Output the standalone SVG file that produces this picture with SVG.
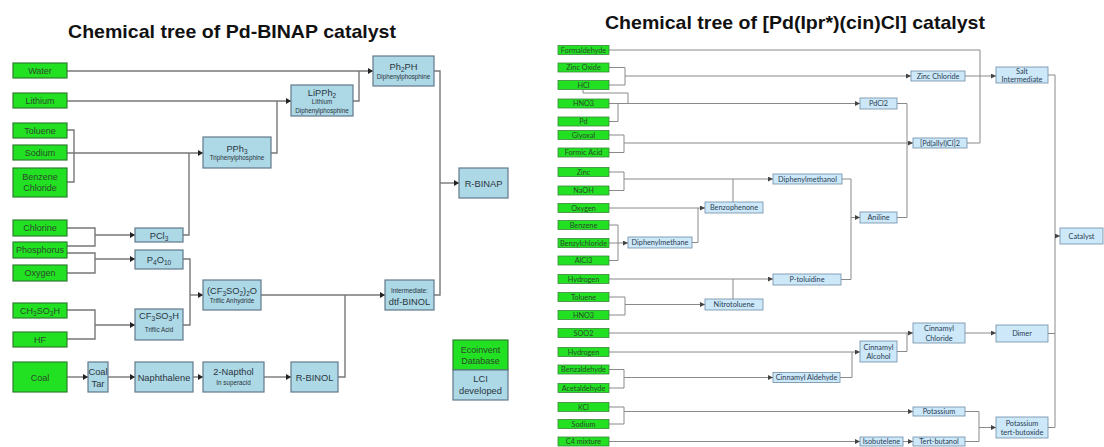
<svg xmlns="http://www.w3.org/2000/svg" width="1104" height="447" viewBox="0 0 1104 447">
<style>
.bg{fill:#ffffff}
.title{font-family:"Liberation Sans",Arial,sans-serif;font-weight:bold;font-size:19px;fill:#111}
.lg{fill:#22e022;stroke:#2f7f2f;stroke-width:1.2}
.lb{fill:#add8e6;stroke:#62798a;stroke-width:1.2}
.lt{font-family:"Liberation Sans",Arial,sans-serif;font-size:9px;text-anchor:middle;fill:#2d4a2d}
.ltb{font-family:"Liberation Sans",Arial,sans-serif;font-size:9.3px;text-anchor:middle;fill:#2a3640}
.ls{font-family:"Liberation Sans",Arial,sans-serif;font-size:6.3px;text-anchor:middle;fill:#2a3640}
.rg{fill:#22e022;stroke:#3a8a3a;stroke-width:0.8}
.rb{fill:#cde8f8;stroke:#6c8ca6;stroke-width:0.8}
.rt{font-family:Lato,"Liberation Sans",sans-serif;font-size:7.3px;text-anchor:middle;fill:#2d4a2d}
.rtb{font-family:Lato,"Liberation Sans",sans-serif;font-size:7.3px;text-anchor:middle;fill:#2a3d55}
.lc{fill:none;stroke:#777;stroke-width:1.4}
.rc{fill:none;stroke:#8a8a8a;stroke-width:1}
</style>
<defs>
<marker id="ah" markerUnits="userSpaceOnUse" markerWidth="6" markerHeight="6" refX="5" refY="3" orient="auto">
<path d="M0,0 L5,3 L0,6 z" fill="#222"/>
</marker>
<marker id="ahr" markerUnits="userSpaceOnUse" markerWidth="6" markerHeight="6" refX="5" refY="2.5" orient="auto">
<path d="M0,0 L5,2.5 L0,5 z" fill="#444"/>
</marker>
</defs>
<rect class="bg" x="0" y="0" width="1104" height="447"/>

<text class="title" x="68" y="38" textLength="328" lengthAdjust="spacingAndGlyphs">Chemical tree of Pd-BINAP  catalyst</text>
<text class="title" x="605" y="29" textLength="380" lengthAdjust="spacingAndGlyphs">Chemical tree of [Pd(Ipr*)(cin)Cl]  catalyst</text>

<!-- LEFT CONNECTORS -->
<g id="left-connectors">
<path class="lc" d="M67,71 H373" marker-end="url(#ah)"/>
<path class="lc" d="M353,101 H359 V71"/>
<path class="lc" d="M67,101 H291" marker-end="url(#ah)"/>
<path class="lc" d="M271,153 H277 V101"/>
<path class="lc" d="M67,130 H74 V182 H67"/>
<path class="lc" d="M67,153 H203" marker-end="url(#ah)"/>
<path class="lc" d="M183,235 H189 V153"/>
<path class="lc" d="M67,228 H95 V246 H67"/>
<path class="lc" d="M95,235 H135" marker-end="url(#ah)"/>
<path class="lc" d="M67,253 H95 V273 H67"/>
<path class="lc" d="M95,259 H135" marker-end="url(#ah)"/>
<path class="lc" d="M67,310 H95 V339 H67"/>
<path class="lc" d="M95,325 H135" marker-end="url(#ah)"/>
<path class="lc" d="M183,259 H190 V325 H183"/>
<path class="lc" d="M190,295 H203" marker-end="url(#ah)"/>
<path class="lc" d="M261,295 H385" marker-end="url(#ah)"/>
<path class="lc" d="M338,377 H345 V295"/>
<path class="lc" d="M434,295 H440 V71 H434"/>
<path class="lc" d="M440,183 H459" marker-end="url(#ah)"/>
<path class="lc" d="M67,377 H88" marker-end="url(#ah)"/>
<path class="lc" d="M108,377 H135" marker-end="url(#ah)"/>
<path class="lc" d="M193,377 H203" marker-end="url(#ah)"/>
<path class="lc" d="M264,377 H291" marker-end="url(#ah)"/>
</g>

<!-- LEFT NODES -->
<g id="l-water"><rect class="lg" x="13" y="63" width="54" height="15"/><text class="lt" x="40" y="74">Water</text></g>
<g id="l-lithium"><rect class="lg" x="13" y="93" width="54" height="15"/><text class="lt" x="40" y="104">Lithium</text></g>
<g id="l-toluene"><rect class="lg" x="13" y="123" width="54" height="15"/><text class="lt" x="40" y="134">Toluene</text></g>
<g id="l-sodium"><rect class="lg" x="13" y="145" width="54" height="15"/><text class="lt" x="40" y="156">Sodium</text></g>
<g id="l-benzenechloride"><rect class="lg" x="13" y="168" width="54" height="29"/><text class="lt" x="40" y="180">Benzene</text><text class="lt" x="40" y="191">Chloride</text></g>
<g id="l-chlorine"><rect class="lg" x="13" y="220" width="54" height="16"/><text class="lt" x="40" y="231">Chlorine</text></g>
<g id="l-phosphorus"><rect class="lg" x="13" y="242" width="54" height="16"/><text class="lt" x="40" y="253">Phosphorus</text></g>
<g id="l-oxygen"><rect class="lg" x="13" y="265" width="54" height="16"/><text class="lt" x="40" y="276">Oxygen</text></g>
<g id="l-ch3so3h"><rect class="lg" x="13" y="303" width="54" height="15"/><text class="lt" x="40" y="314">CH<tspan font-size="6.5" dy="2">3</tspan><tspan dy="-2">SO</tspan><tspan font-size="6.5" dy="2">3</tspan><tspan dy="-2">H</tspan></text></g>
<g id="l-hf"><rect class="lg" x="13" y="332" width="54" height="15"/><text class="lt" x="40" y="343">HF</text></g>
<g id="l-coal"><rect class="lg" x="13" y="362" width="54" height="30"/><text class="lt" x="40" y="380.5">Coal</text></g>

<g id="l-coaltar"><rect class="lb" x="88" y="362" width="20" height="30"/><text class="ltb" x="98" y="374.5" font-size="7.6">Coal</text><text class="ltb" x="98" y="386.5" font-size="7.6">Tar</text></g>
<g id="l-naphthalene"><rect class="lb" x="135" y="362" width="58" height="30"/><text class="ltb" x="164" y="380.5">Naphthalene</text></g>
<g id="l-2napthol"><rect class="lb" x="203" y="362" width="61" height="30"/><text class="ltb" x="233.5" y="375">2-Napthol</text><text class="ls" x="233.5" y="385">In superacid</text></g>
<g id="l-rbinol"><rect class="lb" x="291" y="362" width="47" height="30"/><text class="ltb" x="314.5" y="380.5">R-BINOL</text></g>
<g id="l-pcl3"><rect class="lb" x="135" y="228" width="48" height="14"/><text class="ltb" x="159" y="238.5">PCl<tspan font-size="6.5" dy="2">3</tspan></text></g>
<g id="l-p4o10"><rect class="lb" x="135" y="250" width="48" height="19"/><text class="ltb" x="159" y="262.5">P<tspan font-size="6.5" dy="2">4</tspan><tspan dy="-2">O</tspan><tspan font-size="6.5" dy="2">10</tspan></text></g>
<g id="l-cf3so3h"><rect class="lb" x="135" y="309" width="48" height="31"/><text class="ltb" x="159" y="319">CF<tspan font-size="6.5" dy="2">3</tspan><tspan dy="-2">SO</tspan><tspan font-size="6.5" dy="2">3</tspan><tspan dy="-2">H</tspan></text><text class="ls" x="159" y="332">Triflic Acid</text></g>
<g id="l-tf2o"><rect class="lb" x="203" y="280" width="58" height="30"/><text class="ltb" x="232" y="294">(CF<tspan font-size="6.5" dy="2">3</tspan><tspan dy="-2">SO</tspan><tspan font-size="6.5" dy="2">2</tspan><tspan dy="-2">)</tspan><tspan font-size="6.5" dy="2">2</tspan><tspan dy="-2">O</tspan></text><text class="ls" x="232" y="302.5">Triflic Anhydride</text></g>
<g id="l-pph3"><rect class="lb" x="203" y="137" width="68" height="31"/><text class="ltb" x="237" y="151.5">PPh<tspan font-size="6.5" dy="2">3</tspan></text><text class="ls" x="237" y="160">Triphenylphosphine</text></g>
<g id="l-lipph2"><rect class="lb" x="291" y="85" width="62" height="31"/><text class="ltb" x="322" y="95.5">LiPPh<tspan font-size="6.5" dy="2">2</tspan></text><text class="ls" x="322" y="104">Lithium</text><text class="ls" x="322" y="112.5">Diphenylphosphine</text></g>
<g id="l-ph2ph"><rect class="lb" x="373" y="56" width="61" height="30"/><text class="ltb" x="403.5" y="69.5">Ph<tspan font-size="6.5" dy="2">2</tspan><tspan dy="-2">PH</tspan></text><text class="ls" x="403.5" y="78.5">Diphenylphosphine</text></g>
<g id="l-dtfbinol"><rect class="lb" x="385" y="280" width="49" height="30"/><text class="ls" x="409.5" y="293" font-size="5.5">Intermediate:</text><text class="ltb" x="409.5" y="304.5">dtf-BINOL</text></g>
<g id="l-rbinap"><rect class="lb" x="459" y="168" width="49" height="30"/><text class="ltb" x="483.5" y="186.5">R-BINAP</text></g>
<g id="l-legend">
<rect class="lg" x="453" y="340" width="55" height="30"/><text class="lt" x="480.5" y="352.5">Ecoinvent</text><text class="lt" x="480.5" y="363.5">Database</text>
<rect class="lb" x="453" y="370" width="55" height="30"/><text class="ltb" x="480.5" y="381.5">LCI</text><text class="ltb" x="480.5" y="393.5">developed</text>
</g>

<!-- RIGHT CONNECTORS -->
<g id="right-connectors">
<path class="rc" d="M609,50 H980 V143 H967"/>
<path class="rc" d="M965,76 H996" marker-end="url(#ahr)"/>
<path class="rc" d="M609,67.5 H625 V85 H609"/>
<path class="rc" d="M625,76 H911" marker-end="url(#ahr)"/>
<path class="rc" d="M583,89.5 V93 H628 V103.5"/>
<path class="rc" d="M609,103.5 H860" marker-end="url(#ahr)"/>
<path class="rc" d="M609,121.5 H618 V103.5"/>
<path class="rc" d="M609,135 H624 V152.5 H609"/>
<path class="rc" d="M624,143 H913" marker-end="url(#ahr)"/>
<path class="rc" d="M897,103.5 H907 V217.5 H897"/>
<path class="rc" d="M609,172 H624 V190.5 H609"/>
<path class="rc" d="M624,179 H773" marker-end="url(#ahr)"/>
<path class="rc" d="M733,202 V179"/>
<path class="rc" d="M609,208 H705" marker-end="url(#ahr)"/>
<path class="rc" d="M609,225 H618 V260.5 H609"/>
<path class="rc" d="M609,243 H628" marker-end="url(#ahr)"/>
<path class="rc" d="M692,242.5 H698 V208"/>
<path class="rc" d="M609,279 H773" marker-end="url(#ahr)"/>
<path class="rc" d="M733,299 V279"/>
<path class="rc" d="M609,297 H625 V315 H609"/>
<path class="rc" d="M625,304.5 H705" marker-end="url(#ahr)"/>
<path class="rc" d="M842,179 H851 V279.5 H841"/>
<path class="rc" d="M851,217.5 H860" marker-end="url(#ahr)"/>
<path class="rc" d="M609,333 H913" marker-end="url(#ahr)"/>
<path class="rc" d="M609,352 H860" marker-end="url(#ahr)"/>
<path class="rc" d="M840,377.5 H852 V352"/>
<path class="rc" d="M609,369.5 H624 V388 H609"/>
<path class="rc" d="M624,377.5 H773" marker-end="url(#ahr)"/>
<path class="rc" d="M897,351.5 H907 V333"/>
<path class="rc" d="M965,333 H996" marker-end="url(#ahr)"/>
<path class="rc" d="M609,407 H624 V424 H609"/>
<path class="rc" d="M624,411.5 H913" marker-end="url(#ahr)"/>
<path class="rc" d="M609,441.5 H860" marker-end="url(#ahr)"/>
<path class="rc" d="M903,441.5 H913" marker-end="url(#ahr)"/>
<path class="rc" d="M965,411.5 H979 V441.5 H965"/>
<path class="rc" d="M979,427.5 H996" marker-end="url(#ahr)"/>
<path class="rc" d="M1048,75 H1055 V427.5 H1048"/>
<path class="rc" d="M1048,333.5 H1055"/>
<path class="rc" d="M1055,236 H1060" marker-end="url(#ahr)"/>
</g>

<!-- RIGHT GREEN NODES -->
<g id="r-formaldehyde"><rect class="rg" x="558" y="45.5" width="51" height="9"/><text class="rt" x="583.5" y="52.5">Formaldehyde</text></g>
<g id="r-zincoxide"><rect class="rg" x="558" y="63" width="51" height="9"/><text class="rt" x="583.5" y="70">Zinc Oxide</text></g>
<g id="r-hcl"><rect class="rg" x="558" y="80.5" width="51" height="9"/><text class="rt" x="583.5" y="87.5">HCl</text></g>
<g id="r-hno3a"><rect class="rg" x="558" y="99" width="51" height="9"/><text class="rt" x="583.5" y="106">HNO3</text></g>
<g id="r-pd"><rect class="rg" x="558" y="117" width="51" height="9"/><text class="rt" x="583.5" y="124">Pd</text></g>
<g id="r-glyoxal"><rect class="rg" x="558" y="130.5" width="51" height="9"/><text class="rt" x="583.5" y="137.5">Glyoxal</text></g>
<g id="r-formicacid"><rect class="rg" x="558" y="148" width="51" height="9"/><text class="rt" x="583.5" y="155">Formic Acid</text></g>
<g id="r-zinc"><rect class="rg" x="558" y="167.5" width="51" height="9"/><text class="rt" x="583.5" y="174.5">Zinc</text></g>
<g id="r-naoh"><rect class="rg" x="558" y="186" width="51" height="9"/><text class="rt" x="583.5" y="193">NaOH</text></g>
<g id="r-oxygen"><rect class="rg" x="558" y="203.5" width="51" height="9"/><text class="rt" x="583.5" y="210.5">Oxygen</text></g>
<g id="r-benzene"><rect class="rg" x="558" y="220.5" width="51" height="9"/><text class="rt" x="583.5" y="227.5">Benzene</text></g>
<g id="r-benzylchloride"><rect class="rg" x="558" y="238.5" width="51" height="9"/><text class="rt" x="583.5" y="245.5">Benzylchloride</text></g>
<g id="r-alcl3"><rect class="rg" x="558" y="256" width="51" height="9"/><text class="rt" x="583.5" y="263">AlCl3</text></g>
<g id="r-hydrogena"><rect class="rg" x="558" y="274.5" width="51" height="9"/><text class="rt" x="583.5" y="281.5">Hydrogen</text></g>
<g id="r-toluene"><rect class="rg" x="558" y="292.5" width="51" height="9"/><text class="rt" x="583.5" y="299.5">Toluene</text></g>
<g id="r-hno3b"><rect class="rg" x="558" y="310.5" width="51" height="9"/><text class="rt" x="583.5" y="317.5">HNO3</text></g>
<g id="r-soo2"><rect class="rg" x="558" y="328.5" width="51" height="9"/><text class="rt" x="583.5" y="335.5">SOO2</text></g>
<g id="r-hydrogenb"><rect class="rg" x="558" y="347.5" width="51" height="9"/><text class="rt" x="583.5" y="354.5">Hydrogen</text></g>
<g id="r-benzaldehyde"><rect class="rg" x="558" y="365" width="51" height="9"/><text class="rt" x="583.5" y="372">Benzaldehyde</text></g>
<g id="r-acetaldehyde"><rect class="rg" x="558" y="383.5" width="51" height="9"/><text class="rt" x="583.5" y="390.5">Acetaldehyde</text></g>
<g id="r-kcl"><rect class="rg" x="558" y="402.5" width="51" height="9"/><text class="rt" x="583.5" y="409.5">KCl</text></g>
<g id="r-sodium"><rect class="rg" x="558" y="419.5" width="51" height="9"/><text class="rt" x="583.5" y="426.5">Sodium</text></g>
<g id="r-c4mixture"><rect class="rg" x="558" y="437" width="51" height="9"/><text class="rt" x="583.5" y="444">C4 mixture</text></g>

<!-- RIGHT BLUE NODES -->
<g id="r-zincchloride"><rect class="rb" x="911" y="71" width="54" height="10"/><text class="rtb" x="938" y="78.5">Zinc Chloride</text></g>
<g id="r-salt"><rect class="rb" x="996" y="67" width="52" height="16"/><text class="rtb" x="1022" y="73.5" font-size="7">Salt</text><text class="rtb" x="1022" y="81.5" font-size="4.2">Intermediate</text></g>
<g id="r-pdcl2"><rect class="rb" x="860" y="98" width="37" height="11"/><text class="rtb" x="878.5" y="106">PdCl2</text></g>
<g id="r-pdallylcl"><rect class="rb" x="913" y="138" width="54" height="10"/><text class="rtb" x="940" y="145.5">[Pd(allyl)Cl]2</text></g>
<g id="r-diphenylmethanol"><rect class="rb" x="773" y="174" width="69" height="10"/><text class="rtb" x="807.5" y="181.5">Diphenylmethanol</text></g>
<g id="r-benzophenone"><rect class="rb" x="705" y="202" width="58" height="11"/><text class="rtb" x="734" y="210">Benzophenone</text></g>
<g id="r-aniline"><rect class="rb" x="860" y="212" width="37" height="11"/><text class="rtb" x="878.5" y="220">Aniline</text></g>
<g id="r-catalyst"><rect class="rb" x="1060" y="228" width="43" height="16"/><text class="rtb" x="1081.5" y="238.5">Catalyst</text></g>
<g id="r-diphenylmethane"><rect class="rb" x="628" y="237" width="64" height="11"/><text class="rtb" x="660" y="245">Diphenylmethane</text></g>
<g id="r-ptoluidine"><rect class="rb" x="773" y="274" width="68" height="11"/><text class="rtb" x="807" y="282">P-toluidine</text></g>
<g id="r-nitrotoluene"><rect class="rb" x="705" y="299" width="58" height="11"/><text class="rtb" x="734" y="307">Nitrotoluene</text></g>
<g id="r-cinnamylchloride"><rect class="rb" x="913" y="323" width="52" height="20"/><text class="rtb" x="939" y="331">Cinnamyl</text><text class="rtb" x="939" y="340.5">Chloride</text></g>
<g id="r-dimer"><rect class="rb" x="996" y="325" width="52" height="17"/><text class="rtb" x="1022" y="336">Dimer</text></g>
<g id="r-cinnamylalcohol"><rect class="rb" x="860" y="341" width="37" height="21"/><text class="rtb" x="878.5" y="349.5">Cinnamyl</text><text class="rtb" x="878.5" y="359">Alcohol</text></g>
<g id="r-cinnamylaldehyde"><rect class="rb" x="773" y="372.5" width="67" height="10"/><text class="rtb" x="806.5" y="380">Cinnamyl Aldehyde</text></g>
<g id="r-potassium"><rect class="rb" x="913" y="407" width="52" height="9"/><text class="rtb" x="939" y="414">Potassium</text></g>
<g id="r-ptb"><rect class="rb" x="996" y="417" width="52" height="21"/><text class="rtb" x="1022" y="425.5">Potassium</text><text class="rtb" x="1022" y="435">tert-butoxide</text></g>
<g id="r-isobutelene"><rect class="rb" x="860" y="437" width="43" height="9"/><text class="rtb" x="881.5" y="444">Isobutelene</text></g>
<g id="r-tertbutanol"><rect class="rb" x="913" y="437" width="52" height="9"/><text class="rtb" x="939" y="444">Tert-butanol</text></g>
</svg>
